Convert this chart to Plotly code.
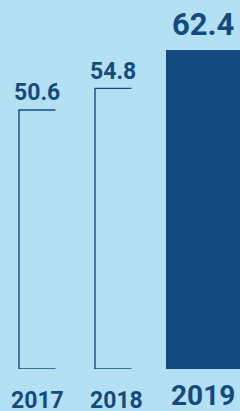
import plotly.graph_objects as go

# ---- data ----
years = ["2017", "2018", "2019"]
values = [50.6, 54.8, 62.4]
value_labels = ["50.6", "54.8", "62.4"]

# ---- style ----
BG = "#b3e0f3"
DARK = "#134b80"
FONT = "Roboto"
outline_width = 0.48      # bar width (x units) for the outlined years
hi_offset = -0.306        # highlighted bar offset from its slot centre
hi_width = 1.0            # highlighted bar width

positions = list(range(len(years)))
last = len(years) - 1

fig = go.Figure()

# outlined bars (open on the right) for earlier years
for i in positions[:-1]:
    xl = positions[i] - outline_width / 2
    xr = positions[i] + outline_width / 2
    fig.add_trace(go.Scatter(
        x=[xr, xl, xl, xr], y=[values[i], values[i], 0, 0],
        mode="lines", line=dict(color=DARK, width=1.4),
        cliponaxis=False, hoverinfo="skip", showlegend=False))

# highlighted filled bar for the latest year
fig.add_trace(go.Bar(
    x=[positions[last]], y=[values[last]],
    offset=hi_offset, width=hi_width,
    marker=dict(color=DARK, line=dict(width=0)),
    showlegend=False, hoverinfo="skip"))

annotations = []
for i in positions:
    if i == last:
        cx = positions[i] + hi_offset + 0.974 / 2
        vsize, ysize, vshift, yshift = 31, 28, 25, -26
    else:
        cx = positions[i]
        vsize, ysize, vshift, yshift = 23, 23, 17, -31.5
    annotations.append(dict(
        x=cx, y=values[i], xref="x", yref="y", text=f"<b>{value_labels[i]}</b>",
        showarrow=False, yanchor="middle", xanchor="center", yshift=vshift,
        font=dict(family=FONT, size=vsize, color=DARK)))
    annotations.append(dict(
        x=cx, y=0, xref="x", yref="paper", text=f"<b>{years[i]}</b>",
        showarrow=False, yanchor="middle", xanchor="center", yshift=yshift,
        xshift=(3 if i == 1 else 0),
        font=dict(family=FONT, size=ysize, color=DARK)))

fig.update_layout(
    width=240, height=411,
    margin=dict(l=0, r=0, t=0, b=42, pad=0),
    paper_bgcolor=BG, plot_bgcolor=BG,
    xaxis=dict(range=[-0.49, 2.668], visible=False, fixedrange=True),
    yaxis=dict(range=[0, 72.07], visible=False, fixedrange=True),
    annotations=annotations,
    bargap=0,
)

fig.write_html(
    "out.html",
    config=dict(displayModeBar=False),
    post_script="document.body.style.margin='0';document.body.style.padding='0';"
                "document.body.style.overflow='hidden';",
)
